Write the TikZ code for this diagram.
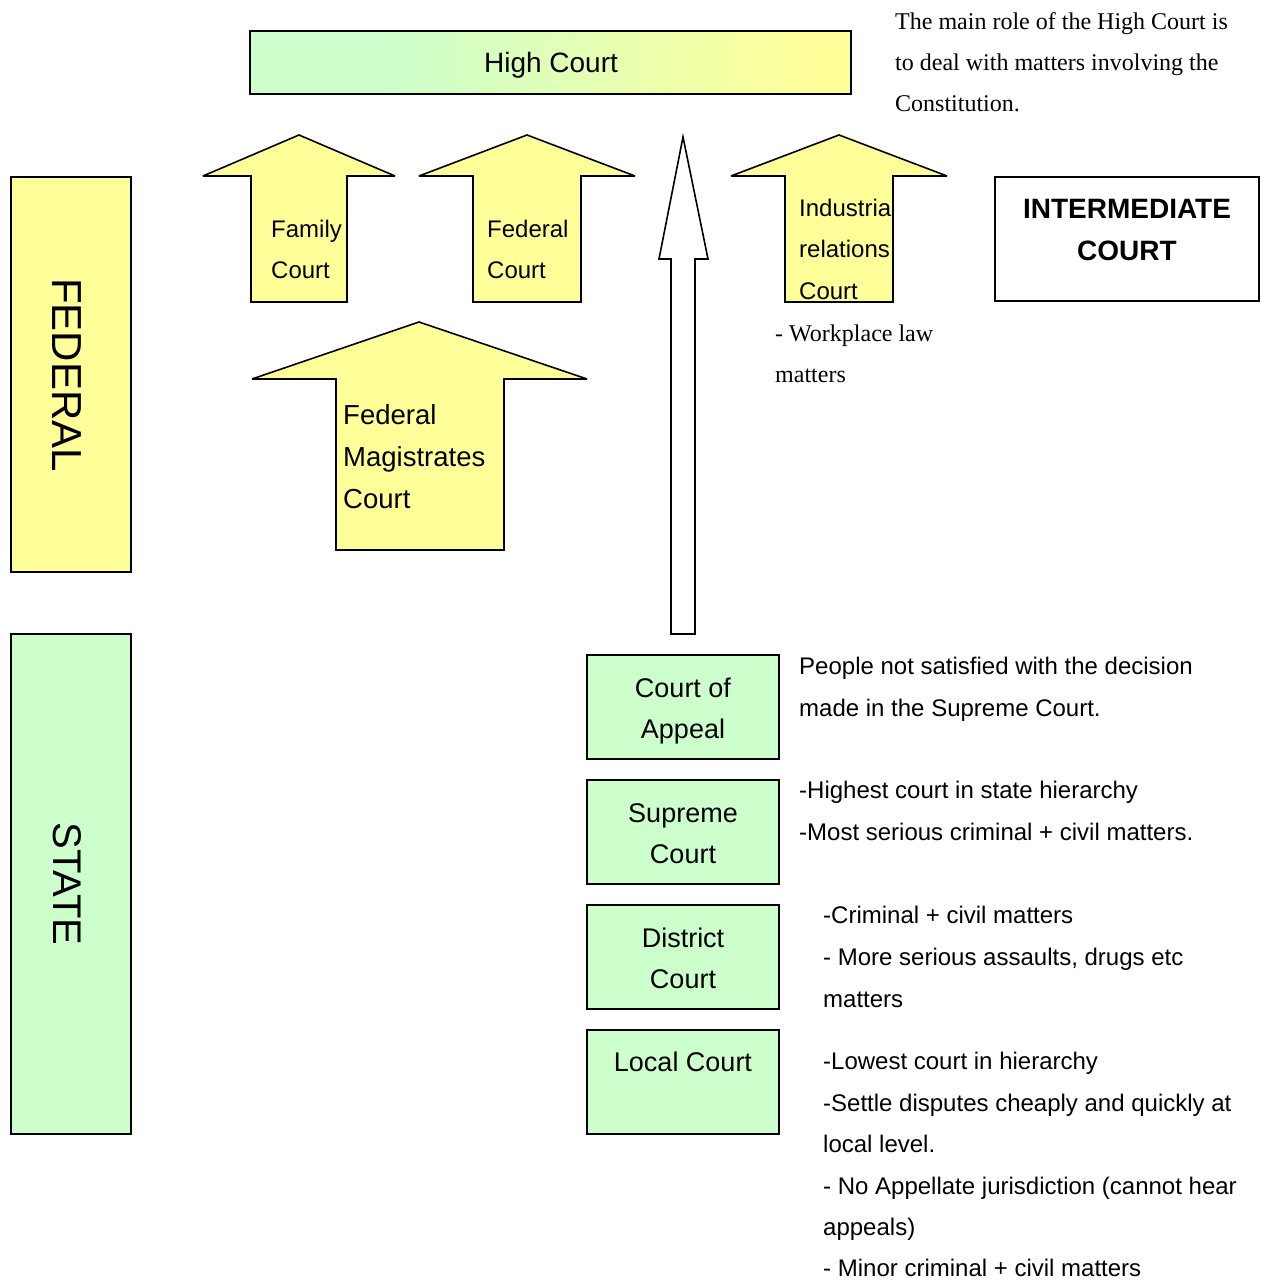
\documentclass[tikz,border=0pt]{standalone}
\usepackage{fontspec}
\setmainfont{Liberation Serif}
\setsansfont{Liberation Sans}
\definecolor{lyellow}{HTML}{FFFF99}
\definecolor{lgreen}{HTML}{CCFFCC}
\pgfdeclarehorizontalshading{hcshade}{100bp}{color(0bp)=(lgreen); color(25bp)=(lgreen); color(36bp)=(lgreen); color(72bp)=(lyellow); color(100bp)=(lyellow)}
\tikzset{
  outl/.style={draw=black, line width=1.6pt},
  ybox/.style={outl, fill=lyellow},
  gbox/.style={outl, fill=lgreen},
  arr/.style={miter limit=2.5},
  s24/.style={font=\sffamily\fontsize{24}{24}\selectfont, inner sep=0pt},
  s27/.style={font=\sffamily\fontsize{27}{27}\selectfont, inner sep=0pt},
  s275/.style={font=\sffamily\fontsize{27.5}{27.5}\selectfont, inner sep=0pt},
  r24/.style={font=\rmfamily\fontsize{24}{24}\selectfont, inner sep=0pt},
  lt/.style={anchor=base west},
  ct/.style={anchor=base},
}
\begin{document}
\begin{tikzpicture}[x=1pt,y=-1pt]
\useasboundingbox (0,0) rectangle (1269,1281);

% side boxes
\draw[ybox] (11,177) rectangle (131,572);
\node[font=\sffamily\fontsize{42}{42}\selectfont, inner sep=0pt, rotate=-90] (fedlbl) at (67,375) {FEDERAL};
\draw[gbox] (11,634) rectangle (131,1134);
\node[font=\sffamily\fontsize{40}{40}\selectfont, inner sep=0pt, rotate=-90] (statelbl) at (67,884) {STATE};

% High Court
\draw[outl, shading=hcshade] (250,31) rectangle (851,94);
\node[s27,ct, font=\sffamily\fontsize{28}{28}\selectfont] (hc) at (551,73) {High Court};

% arrows
\draw[ybox,arr] (251,302) -- (251,176) -- (203,176) -- (299,135) -- (395,176) -- (347,176) -- (347,302) -- cycle;
\node[s24,lt] (fam1) at (271,237) {Family};
\node[s24,lt] (fam2) at (271,278) {Court};

\draw[ybox,arr] (473,302) -- (473,176) -- (419,176) -- (527,135) -- (635,176) -- (581,176) -- (581,302) -- cycle;
\node[s24,lt] (fc1) at (487,237) {Federal};
\node[s24,lt] (fc2) at (487,278) {Court};

\draw[ybox,arr] (785,302) -- (785,176) -- (731,176) -- (839,135) -- (947,176) -- (893,176) -- (893,302) -- cycle;
\begin{scope}
\clip (785,176) rectangle (893,310);
\node[s24,lt] (ir1) at (799,217) {Industrial};
\node[s24,lt] (ir2) at (799,258) {relations};
\node[s24,lt] (ir3) at (799,299) {Court};
\end{scope}

\draw[ybox,arr] (336,550) -- (336,379) -- (252,379) -- (419,322) -- (587,379) -- (504,379) -- (504,550) -- cycle;
\node[s275,lt] (fm1) at (343,424) {Federal};
\node[s275,lt] (fm2) at (343,466) {Magistrates};
\node[s275,lt] (fm3) at (343,508) {Court};

\draw[outl, fill=white] (671,634) -- (671,259) -- (659,259) -- (683,137) -- (708,259) -- (695,259) -- (695,634) -- cycle;

% Intermediate court
\draw[outl, fill=white] (995,177) rectangle (1259,301);
\node[font=\sffamily\bfseries\fontsize{28}{28}\selectfont, inner sep=0pt, ct] (ic1) at (1127,219) {INTERMEDIATE};
\node[font=\sffamily\bfseries\fontsize{28}{28}\selectfont, inner sep=0pt, ct] (ic2) at (1127,260) {COURT};

% notes (serif)
\node[r24,lt] (hn1) at (895,30) {The main role of the High Court is};
\node[r24,lt] (hn2) at (895,71) {to deal with matters involving the};
\node[r24,lt] (hn3) at (895,112) {Constitution.};
\node[r24,lt] (wn1) at (775,341) {- Workplace law};
\node[r24,lt] (wn2) at (775,382) {matters};

% state courts
\draw[gbox] (587,655) rectangle (779,759);
\node[s27,ct] (coa1) at (683,697) {Court of};
\node[s27,ct] (coa2) at (683,738) {Appeal};
\draw[gbox] (587,780) rectangle (779,884);
\node[s27,ct] (sc1) at (683,822) {Supreme};
\node[s27,ct] (sc2) at (683,863) {Court};
\draw[gbox] (587,905) rectangle (779,1009);
\node[s27,ct] (dc1) at (683,947) {District};
\node[s27,ct] (dc2) at (683,988) {Court};
\draw[gbox] (587,1030) rectangle (779,1134);
\node[s27,ct] (lc1) at (683,1071) {Local Court};

% state notes
\node[s24,lt] (cn1) at (799,674) {People not satisfied with the decision};
\node[s24,lt] (cn2) at (799,716) {made in the Supreme Court.};
\node[s24,lt] (sn1) at (799,798) {-Highest court in state hierarchy};
\node[s24,lt] (sn2) at (799,840) {-Most serious criminal + civil matters.};
\node[s24,lt] (dn1) at (823,923) {-Criminal + civil matters};
\node[s24,lt] (dn2) at (823,965) {- More serious assaults, drugs etc};
\node[s24,lt] (dn3) at (823,1007) {matters};
\node[s24,lt] (ln1) at (823,1069) {-Lowest court in hierarchy};
\node[s24,lt] (ln2) at (823,1111) {-Settle disputes cheaply and quickly at};
\node[s24,lt] (ln3) at (823,1152) {local level.};
\node[s24,lt] (ln4) at (823,1194) {- No Appellate jurisdiction (cannot hear};
\node[s24,lt] (ln5) at (823,1235) {appeals)};
\node[s24,lt] (ln6) at (823,1276) {- Minor criminal + civil matters};
\end{tikzpicture}
\end{document}
